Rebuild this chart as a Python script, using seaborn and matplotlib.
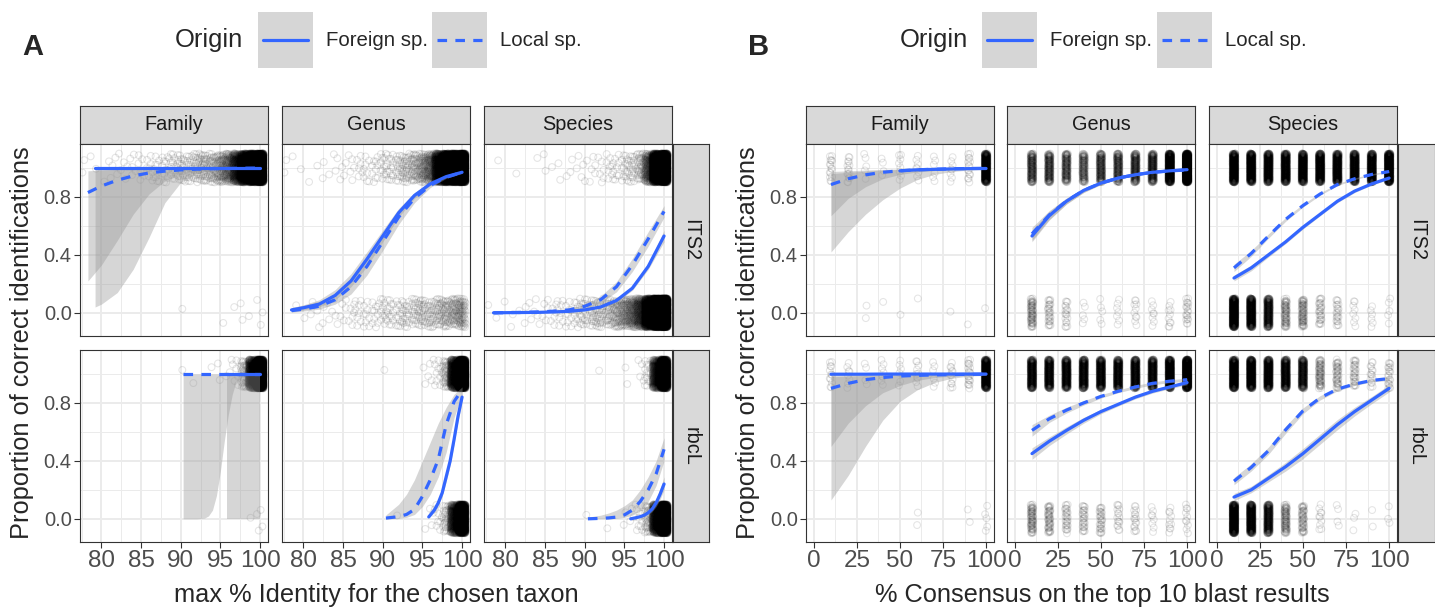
import numpy as np
import pandas as pd
import matplotlib
matplotlib.use('Agg')
import matplotlib.pyplot as plt
import seaborn as sns
from matplotlib.ticker import MultipleLocator

# ---------------- data ----------------
ROWS = ['ITS2', 'rbcL']
RANKS = ['Family', 'Genus', 'Species']

# panel A: points binned on max % identity (bin centres), counts of correct (1) / wrong (0)
IDENT_BINS = list(range(78, 101))
A_OK = {
    ('Family', 'ITS2'):  [2, 2, 1, 3, 4, 3, 5, 6, 8, 10, 12, 15, 18, 22, 28, 34, 40, 60, 100, 250, 600, 1000, 1500],
    ('Genus', 'ITS2'):   [2, 1, 1, 1, 2, 2, 3, 4, 5, 6, 8, 10, 12, 15, 20, 28, 40, 60, 100, 400, 900, 1200, 1500],
    ('Species', 'ITS2'): [0, 1, 0, 1, 0, 0, 1, 2, 1, 2, 3, 2, 4, 5, 6, 8, 10, 14, 20, 35, 150, 800, 1500],
    ('Family', 'rbcL'):  [0, 0, 0, 0, 0, 0, 0, 0, 0, 0, 0, 0, 1, 0, 1, 0, 1, 2, 3, 6, 40, 400, 1500],
    ('Genus', 'rbcL'):   [0, 0, 0, 0, 0, 0, 0, 0, 0, 0, 0, 0, 1, 0, 0, 0, 0, 2, 4, 10, 40, 400, 1500],
    ('Species', 'rbcL'): [0, 0, 0, 0, 0, 0, 0, 0, 0, 0, 0, 0, 0, 0, 1, 0, 0, 2, 0, 4, 15, 300, 1200],
}
A_BAD = {
    ('Family', 'ITS2'):  [0, 0, 0, 0, 0, 0, 0, 0, 0, 0, 0, 0, 1, 0, 0, 0, 0, 1, 0, 1, 2, 1, 3],
    ('Genus', 'ITS2'):   [0, 1, 1, 2, 3, 3, 4, 5, 6, 8, 9, 10, 12, 14, 15, 18, 21, 24, 27, 30, 36, 45, 60],
    ('Species', 'ITS2'): [1, 1, 1, 2, 2, 3, 4, 5, 6, 8, 10, 14, 18, 22, 26, 30, 45, 65, 100, 180, 600, 1500, 2000],
    ('Family', 'rbcL'):  [0, 0, 0, 0, 0, 0, 0, 0, 0, 0, 0, 0, 0, 0, 0, 0, 0, 0, 0, 0, 0, 1, 4],
    ('Genus', 'rbcL'):   [0, 0, 0, 0, 0, 0, 0, 0, 0, 0, 0, 0, 0, 0, 1, 0, 0, 1, 3, 8, 30, 300, 1200],
    ('Species', 'rbcL'): [0, 0, 0, 0, 0, 0, 0, 0, 0, 0, 0, 0, 1, 0, 0, 1, 0, 2, 4, 10, 40, 400, 1500],
}

# panel B: points at % consensus values
CONS_X = [10, 20, 30, 40, 50, 60, 70, 80, 90, 100]
B_OK = {
    ('Family', 'ITS2'):  [15, 15, 5, 4, 8, 8, 6, 8, 15, 400],
    ('Genus', 'ITS2'):   [150, 150, 130, 110, 150, 150, 170, 200, 500, 800],
    ('Species', 'ITS2'): [400, 400, 350, 350, 350, 350, 350, 350, 350, 500],
    ('Family', 'rbcL'):  [12, 8, 4, 8, 6, 10, 6, 12, 20, 400],
    ('Genus', 'rbcL'):   [300, 300, 300, 300, 300, 300, 300, 300, 400, 600],
    ('Species', 'rbcL'): [400, 400, 350, 300, 250, 60, 40, 30, 15, 20],
}
B_BAD = {
    ('Family', 'ITS2'):  [0, 0, 2, 1, 1, 1, 0, 1, 1, 1],
    ('Genus', 'ITS2'):   [60, 28, 18, 5, 5, 7, 10, 8, 10, 18],
    ('Species', 'ITS2'): [450, 350, 250, 60, 60, 28, 22, 8, 6, 5],
    ('Family', 'rbcL'):  [0, 0, 0, 0, 0, 2, 0, 0, 2, 5],
    ('Genus', 'rbcL'):   [60, 45, 28, 28, 28, 16, 16, 8, 10, 10],
    ('Species', 'rbcL'): [450, 350, 250, 70, 45, 10, 4, 3, 2, 3],
}

# fitted curves (f = Foreign sp., l = Local sp.) with their confidence bands
NA = np.nan
A_FAM_ITS2 = dict(
    fx=[79.2, 80, 82, 84, 86, 88, 90, 92, 94, 96, 98, 100],
    f=[1.0, 1.0, 1.0, 1.0, 1.0, 1.0, 1.0, 1.0, 1.0, 1.0, 1.0, 1.0],
    flo=[0.04, 0.06, 0.14, 0.3, 0.52, 0.76, 0.9, 0.96, 0.985, 0.993, 0.996, 0.998],
    fhi=[1.0, 1.0, 1.0, 1.0, 1.0, 1.0, 1.0, 1.0, 1.0, 1.0, 1.0, 1.0],
    lx=[78.3, 80, 82, 84, 86, 88, 90, 92, 94, 96, 98, 100],
    l=[0.83, 0.875, 0.915, 0.945, 0.965, 0.978, 0.986, 0.991, 0.994, 0.996, 0.998, 0.999],
    llo=[0.22, 0.33, 0.5, 0.68, 0.82, 0.91, 0.955, 0.975, 0.985, 0.99, 0.994, 0.996],
    lhi=[0.98, 0.985, 0.99, 0.993, 0.995, 0.997, 0.998, 0.999, 0.999, 1.0, 1.0, 1.0],
)
A_GEN_ITS2 = dict(
    fx=[78.5, 80, 82, 84, 86, 88, 90, 92, 94, 96, 98, 100],
    f=[0.02, 0.035, 0.06, 0.12, 0.22, 0.37, 0.53, 0.69, 0.81, 0.89, 0.94, 0.97],
    flo=[0.01, 0.02, 0.04, 0.09, 0.18, 0.32, 0.49, 0.66, 0.79, 0.88, 0.935, 0.965],
    fhi=[0.035, 0.055, 0.09, 0.16, 0.27, 0.42, 0.57, 0.72, 0.83, 0.9, 0.945, 0.975],
    lx=[78.5, 80, 82, 84, 86, 88, 90, 92, 94, 96, 98, 100],
    l=[0.015, 0.025, 0.045, 0.09, 0.18, 0.32, 0.49, 0.66, 0.79, 0.88, 0.935, 0.97],
    llo=[0.005, 0.012, 0.025, 0.06, 0.13, 0.26, 0.43, 0.61, 0.76, 0.865, 0.928, 0.962],
    lhi=[0.035, 0.05, 0.08, 0.13, 0.23, 0.38, 0.55, 0.71, 0.82, 0.895, 0.942, 0.976],
)
A_SPE_ITS2 = dict(
    fx=[78.5, 80, 82, 84, 86, 88, 90, 92, 94, 96, 98, 100],
    f=[0.0, 0.001, 0.002, 0.003, 0.006, 0.01, 0.02, 0.04, 0.085, 0.17, 0.32, 0.53],
    flo=[0.0, 0.0, 0.001, 0.002, 0.004, 0.008, 0.016, 0.034, 0.075, 0.155, 0.3, 0.49],
    fhi=[0.001, 0.002, 0.003, 0.005, 0.008, 0.013, 0.024, 0.046, 0.095, 0.185, 0.34, 0.57],
    lx=[78.5, 80, 82, 84, 86, 88, 90, 92, 94, 96, 98, 100],
    l=[0.0, 0.001, 0.003, 0.006, 0.011, 0.02, 0.045, 0.09, 0.18, 0.33, 0.51, 0.7],
    llo=[0.0, 0.0, 0.001, 0.003, 0.006, 0.013, 0.03, 0.068, 0.145, 0.285, 0.46, 0.66],
    lhi=[0.002, 0.004, 0.006, 0.01, 0.018, 0.03, 0.06, 0.115, 0.215, 0.375, 0.56, 0.74],
)
A_FAM_RBCL = dict(
    fx=[95.8, 97, 98, 99, 100],
    f=[1.0, 1.0, 1.0, 1.0, 1.0],
    flo=[0.0, 0.0, 0.0, 0.0, 0.0],
    fhi=[1.0, 1.0, 1.0, 1.0, 1.0],
    lx=[90.3, 92, 93, 93.5, 94, 94.5, 95, 95.5, 96, 96.5, 97, 98, 100],
    l=[1.0, 1.0, 1.0, 1.0, 1.0, 1.0, 1.0, 1.0, 1.0, 1.0, 1.0, 1.0, 1.0],
    llo=[0.0, 0.0, 0.005, 0.02, 0.06, 0.16, 0.33, 0.54, 0.72, 0.86, 0.95, 0.99, 1.0],
    lhi=[1.0, 1.0, 1.0, 1.0, 1.0, 1.0, 1.0, 1.0, 1.0, 1.0, 1.0, 1.0, 1.0],
)
A_GEN_RBCL = dict(
    fx=[95.8, 96.5, 97, 97.5, 98, 98.5, 99, 99.5, 100],
    f=[0.013, 0.06, 0.11, 0.18, 0.29, 0.4, 0.55, 0.71, 0.84],
    flo=[0.007, 0.045, 0.09, 0.155, 0.26, 0.37, 0.52, 0.68, 0.81],
    fhi=[0.022, 0.075, 0.13, 0.205, 0.32, 0.43, 0.58, 0.74, 0.87],
    lx=[90.4, 92, 93, 94, 95, 96, 97, 98, 99, 100],
    l=[0.005, 0.015, 0.03, 0.065, 0.155, 0.27, 0.41, 0.65, 0.81, 0.89],
    llo=[0.0, 0.003, 0.01, 0.03, 0.085, 0.17, 0.29, 0.46, 0.7, 0.86],
    lhi=[0.027, 0.1, 0.17, 0.27, 0.4, 0.53, 0.66, 0.77, 0.86, 0.91],
)
A_SPE_RBCL = dict(
    fx=[95.8, 96.5, 97, 97.5, 98, 98.5, 99, 99.5, 100],
    f=[0.0, 0.008, 0.015, 0.025, 0.042, 0.068, 0.11, 0.17, 0.24],
    flo=[0.0, 0.004, 0.009, 0.017, 0.03, 0.05, 0.085, 0.135, 0.2],
    fhi=[0.003, 0.013, 0.022, 0.035, 0.055, 0.088, 0.14, 0.21, 0.29],
    lx=[90.4, 92, 93, 94, 95, 96, 97, 98, 99, 100],
    l=[0.0, 0.003, 0.006, 0.012, 0.027, 0.06, 0.12, 0.2, 0.31, 0.48],
    llo=[0.0, 0.0, 0.001, 0.003, 0.01, 0.025, 0.06, 0.12, 0.23, 0.4],
    lhi=[0.012, 0.025, 0.04, 0.06, 0.09, 0.13, 0.2, 0.29, 0.4, 0.56],
)

# the Foreign sp. line in B / Family / ITS2 is hidden under the dashed one up to ~50 %
B_FAM_ITS2 = dict(
    f=[NA, NA, NA, NA, 0.98, 0.987, 0.99, 0.993, 0.995, 0.996],
    flo=[0.42, 0.56, 0.68, 0.78, 0.86, 0.92, 0.955, 0.975, 0.985, 0.99],
    fhi=[0.975, 0.98, 0.985, 0.99, 0.993, 0.995, 0.997, 0.998, 0.998, 0.999],
    l=[0.885, 0.925, 0.952, 0.97, 0.98, 0.987, 0.991, 0.994, 0.996, 0.997],
    llo=[0.67, 0.79, 0.87, 0.925, 0.955, 0.972, 0.982, 0.988, 0.992, 0.994],
    lhi=[0.96, 0.97, 0.978, 0.985, 0.99, 0.993, 0.995, 0.997, 0.998, 0.999],
)
B_GEN_ITS2 = dict(
    f=[0.53, 0.67, 0.77, 0.845, 0.895, 0.93, 0.953, 0.97, 0.98, 0.988],
    flo=[0.49, 0.64, 0.75, 0.83, 0.885, 0.922, 0.947, 0.965, 0.976, 0.984],
    fhi=[0.57, 0.7, 0.79, 0.86, 0.905, 0.938, 0.959, 0.975, 0.984, 0.991],
    l=[0.545, 0.675, 0.772, 0.845, 0.895, 0.93, 0.953, 0.969, 0.979, 0.986],
    llo=[0.5, 0.645, 0.752, 0.832, 0.886, 0.923, 0.948, 0.965, 0.976, 0.983],
    lhi=[0.59, 0.705, 0.792, 0.858, 0.904, 0.937, 0.958, 0.973, 0.982, 0.989],
)
B_SPE_ITS2 = dict(
    f=[0.24, 0.31, 0.4, 0.49, 0.59, 0.68, 0.77, 0.84, 0.89, 0.93],
    flo=[0.22, 0.29, 0.385, 0.478, 0.578, 0.67, 0.76, 0.83, 0.882, 0.92],
    fhi=[0.26, 0.33, 0.415, 0.502, 0.602, 0.69, 0.78, 0.85, 0.898, 0.94],
    l=[0.31, 0.41, 0.53, 0.645, 0.74, 0.82, 0.885, 0.925, 0.955, 0.975],
    llo=[0.285, 0.39, 0.515, 0.632, 0.73, 0.812, 0.878, 0.919, 0.95, 0.969],
    lhi=[0.335, 0.43, 0.545, 0.658, 0.75, 0.828, 0.892, 0.931, 0.96, 0.981],
)
B_FAM_RBCL = dict(
    f=[0.998, 0.998, 0.998, 0.999, 0.999, 0.999, 0.999, 0.999, 0.999, 0.999],
    flo=[0.13, 0.3, 0.5, 0.68, 0.81, 0.89, 0.94, 0.97, 0.985, 0.99],
    fhi=[1.0, 1.0, 1.0, 1.0, 1.0, 1.0, 1.0, 1.0, 1.0, 1.0],
    l=[0.9, 0.935, 0.96, 0.975, 0.985, 0.99, 0.993, 0.995, 0.997, 0.998],
    llo=[0.5, 0.66, 0.78, 0.87, 0.92, 0.955, 0.975, 0.985, 0.99, 0.993],
    lhi=[0.98, 0.985, 0.99, 0.993, 0.995, 0.997, 0.998, 0.999, 0.999, 1.0],
)
B_GEN_RBCL = dict(
    f=[0.45, 0.535, 0.61, 0.68, 0.74, 0.79, 0.84, 0.88, 0.91, 0.94],
    flo=[0.41, 0.505, 0.585, 0.66, 0.725, 0.778, 0.828, 0.868, 0.898, 0.925],
    fhi=[0.49, 0.565, 0.635, 0.7, 0.755, 0.802, 0.852, 0.892, 0.922, 0.953],
    l=[0.61, 0.69, 0.75, 0.8, 0.845, 0.88, 0.91, 0.935, 0.95, 0.96],
    llo=[0.57, 0.665, 0.73, 0.785, 0.833, 0.87, 0.9, 0.925, 0.94, 0.948],
    lhi=[0.65, 0.715, 0.77, 0.815, 0.857, 0.89, 0.92, 0.945, 0.96, 0.971],
)
B_SPE_RBCL = dict(
    f=[0.15, 0.2, 0.28, 0.36, 0.45, 0.55, 0.65, 0.74, 0.82, 0.9],
    flo=[0.125, 0.18, 0.255, 0.33, 0.415, 0.515, 0.615, 0.71, 0.795, 0.875],
    fhi=[0.175, 0.225, 0.305, 0.39, 0.485, 0.585, 0.685, 0.77, 0.845, 0.925],
    l=[0.26, 0.355, 0.47, 0.615, 0.745, 0.835, 0.895, 0.93, 0.955, 0.968],
    llo=[0.235, 0.33, 0.445, 0.59, 0.725, 0.82, 0.883, 0.92, 0.945, 0.955],
    lhi=[0.285, 0.38, 0.495, 0.64, 0.765, 0.85, 0.907, 0.94, 0.965, 0.98],
)

A_CURVES = {('Family', 'ITS2'): A_FAM_ITS2, ('Genus', 'ITS2'): A_GEN_ITS2, ('Species', 'ITS2'): A_SPE_ITS2,
            ('Family', 'rbcL'): A_FAM_RBCL, ('Genus', 'rbcL'): A_GEN_RBCL, ('Species', 'rbcL'): A_SPE_RBCL}
B_CURVES = {('Family', 'ITS2'): B_FAM_ITS2, ('Genus', 'ITS2'): B_GEN_ITS2, ('Species', 'ITS2'): B_SPE_ITS2,
            ('Family', 'rbcL'): B_FAM_RBCL, ('Genus', 'rbcL'): B_GEN_RBCL, ('Species', 'rbcL'): B_SPE_RBCL}

# ---------------- style ----------------
sns.set_theme(style='white')
plt.rcParams['font.family'] = ['Liberation Sans', 'DejaVu Sans']

BLUE = '#3366FF'
DASH = (0, (3, 2.6))
W, H = 1435, 609
fig = plt.figure(figsize=(W / 100, H / 100), dpi=100)


def px_axes(left, top, width, height):
    return fig.add_axes([left / W, 1 - (top + height) / H, width / W, height / H])


def jitter(centers, counts, level, wx):
    # evenly spread layout (quasi-uniform R2 sequence) in place of ggplot's jitter
    xs, ys = [], []
    start = 0
    for c, n in zip(centers, counts):
        k = np.arange(start, start + n)
        start += n + 7
        u = (0.31 + k * 0.7548776662) % 1.0
        v = (0.77 + k * 0.5698402910) % 1.0
        xs.extend(c + (2 * u - 1) * wx)
        ys.extend(level + (2 * v - 1) * 0.1)
    return xs, ys


def strip(left, top, width, height, text, rot=0):
    s = px_axes(left, top, width, height)
    s.set_facecolor('#D9D9D9')
    s.set_xticks([])
    s.set_yticks([])
    for sp in s.spines.values():
        sp.set_color('#333333')
        sp.set_linewidth(0.8)
    s.text(0.5, 0.5, text, rotation=rot, ha='center', va='center',
           transform=s.transAxes, fontsize=14.3, color='#1A1A1A')


def panel(ax, centers, ok, bad, wx, cur, xlim, major, minor, left_col, bottom_row):
    x1, y1 = jitter(centers, ok, 1, wx)
    x0, y0 = jitter(centers, bad, 0, wx)
    pts = pd.DataFrame({'x': x1 + x0, 'y': y1 + y0})
    ax.scatter(pts['x'], pts['y'], s=24, facecolors='none', edgecolors=(0, 0, 0, 0.1),
               linewidths=0.8, zorder=2)
    fx = cur.get('fx', CONS_X)
    lx = cur.get('lx', CONS_X)
    ax.fill_between(fx, cur['flo'], cur['fhi'], color='#999999', alpha=0.4, lw=0, zorder=3)
    sns.lineplot(x=fx, y=cur['f'], ax=ax, color=BLUE, lw=2.3, zorder=4, estimator=None, sort=False)
    ax.fill_between(lx, cur['llo'], cur['lhi'], color='#999999', alpha=0.4, lw=0, zorder=3)
    sns.lineplot(x=lx, y=cur['l'], ax=ax, color=BLUE, lw=2.3, linestyle=DASH, zorder=4,
                 estimator=None, sort=False)

    ax.set_xlim(*xlim)
    ax.set_ylim(-0.16, 1.165)
    ax.xaxis.set_major_locator(MultipleLocator(major))
    ax.xaxis.set_minor_locator(MultipleLocator(minor))
    ax.set_yticks([0.0, 0.4, 0.8])
    ax.set_yticks([0.2, 0.6, 1.0], minor=True)
    ax.set_yticklabels(['0.0', '0.4', '0.8'])
    ax.set_axisbelow(True)
    ax.grid(which='major', color='#EBEBEB', lw=1.4)
    ax.grid(which='minor', color='#EBEBEB', lw=0.7)
    ax.set_facecolor('white')
    for sp in ax.spines.values():
        sp.set_color('#333333')
        sp.set_linewidth(0.8)
    ax.tick_params(which='minor', length=0)
    ax.tick_params(axis='y', which='major', length=4, width=0.8, color='#333333',
                   labelsize=14.5, labelcolor='#4D4D4D', pad=2, left=left_col, labelleft=left_col)
    ax.tick_params(axis='x', which='major', length=4, width=0.8, color='#333333',
                   labelsize=17.5, labelcolor='#4D4D4D', pad=2, bottom=bottom_row, labelbottom=bottom_row)
    ax.set_xlabel('')
    ax.set_ylabel('')


def facet_block(col_lefts, strip_left, strip_w, centers, ok, bad, wx, curves, xlim, major, minor):
    tops = [144, 350]
    for c, rank in enumerate(RANKS):
        strip(col_lefts[c], 106, 188, 38, rank)
        for r, marker in enumerate(ROWS):
            ax = px_axes(col_lefts[c], tops[r], 188, 192)
            key = (rank, marker)
            panel(ax, centers, ok[key], bad[key], wx, curves[key], xlim, major, minor,
                  c == 0, r == 1)
    for r, marker in enumerate(ROWS):
        strip(strip_left, tops[r], strip_w, 192, marker, rot=270)


facet_block([80, 282, 484], 673, 36, IDENT_BINS, A_OK, A_BAD, 0.45, A_CURVES,
            (77.3, 101.0), 5, 2.5)
facet_block([806, 1007, 1209], 1398, 37, CONS_X, B_OK, B_BAD, 0.8, B_CURVES,
            (-4.5, 104.6), 25, 12.5)


# ---------------- legends and titles ----------------
def legend_key(left, dashed):
    k = px_axes(left, 12, 55, 56)
    k.set_facecolor('#D6D6D6')
    k.set_xticks([])
    k.set_yticks([])
    for sp in k.spines.values():
        sp.set_visible(False)
    k.set_xlim(0, 1)
    k.set_ylim(0, 1)
    k.plot([0.09, 0.91], [0.5, 0.5], color=BLUE, lw=2.3, linestyle=DASH if dashed else '-')


for origin_x, key1, key2 in [(175, 258, 432), (900, 982, 1157)]:
    fig.text(origin_x / W, 1 - 40 / H, 'Origin', fontsize=18.4, ha='left', va='center')
    legend_key(key1, False)
    legend_key(key2, True)
    fig.text((key1 + 68) / W, 1 - 40 / H, 'Foreign sp.', fontsize=14.7, ha='left', va='center')
    fig.text((key2 + 68) / W, 1 - 40 / H, 'Local sp.', fontsize=14.7, ha='left', va='center')

fig.text(22 / W, 1 - 47 / H, 'A', fontsize=21, fontweight='bold', ha='left', va='center')
fig.text(748 / W, 1 - 47 / H, 'B', fontsize=21, fontweight='bold', ha='left', va='center')

for yx in (22, 748):
    fig.text(yx / W, 1 - 343 / H, 'Proportion of correct identifications', rotation=90,
             fontsize=18.3, ha='center', va='center')
fig.text(376 / W, 1 - 595 / H, 'max % Identity for the chosen taxon', fontsize=18.3,
         ha='center', va='center')
fig.text(1102 / W, 1 - 595 / H, '% Consensus on the top 10 blast results', fontsize=18.3,
         ha='center', va='center')

fig.savefig('out.png', dpi=100)
